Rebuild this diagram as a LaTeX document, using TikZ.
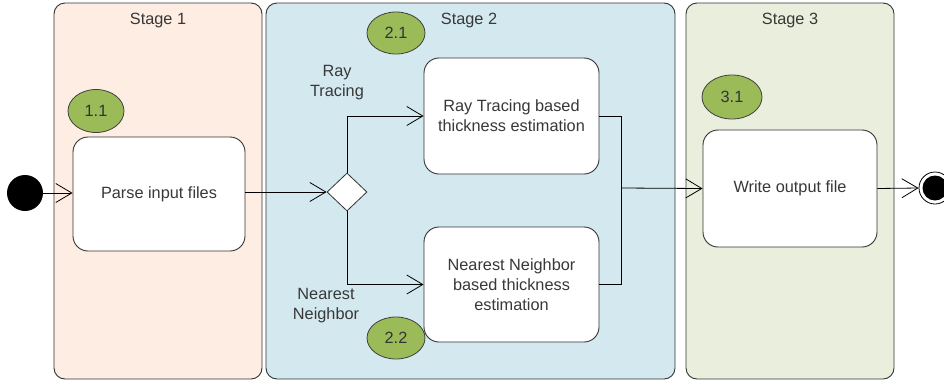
\documentclass[tikz,border=0pt]{standalone}
\usepackage{fontspec}
\setmainfont{Liberation Sans}
\usetikzlibrary{arrows.meta,shapes.geometric}
\definecolor{txt}{HTML}{383838}
\definecolor{pOne}{HTML}{FDEDE2}
\definecolor{pTwo}{HTML}{D3E9EF}
\definecolor{pThree}{HTML}{EAEEDC}
\definecolor{grn}{HTML}{9BBB59}
\tikzset{
  panel/.style={draw=black!80, line width=0.9pt, rounded corners=11pt},
  act/.style={draw=black!80, line width=0.9pt, fill=white, rounded corners=15pt, align=center, text=txt, font=\fontsize{16.3}{20}\selectfont},
  tag/.style={draw=black!75, line width=0.8pt, fill=grn, ellipse, inner sep=0pt, font=\fontsize{16.3}{17}\selectfont, text=black!80},
  lbl/.style={text=txt, font=\fontsize{16.3}{20}\selectfont, align=center},
  flow/.style={draw=black, line width=0.8pt, -{Straight Barb[length=16pt,width=19pt,line width=0.8pt]}},
  line/.style={draw=black, line width=0.8pt}
}
\begin{document}
\begin{tikzpicture}[x=1pt,y=-1pt]
\useasboundingbox (0,0) rectangle (944,381);
% panels
\draw[panel, fill=pOne] (54,3) rectangle (262,379);
\draw[panel, fill=pTwo] (266,3) rectangle (675,379);
\draw[panel, fill=pThree] (686,3) rectangle (894,379);
\node[lbl] (s1) at (158,20) {Stage 1};
\node[lbl] (s2) at (469,20) {Stage 2};
\node[lbl] (s3) at (790,20) {Stage 3};
% start / end
\node[circle, fill=black, minimum size=36pt, inner sep=0pt] (start) at (25,193) {};
\node[circle, draw=black, line width=0.8pt, fill=white, minimum size=32pt, inner sep=0pt] (endo) at (935,188) {};
\node[circle, fill=black, minimum size=25pt, inner sep=0pt] (endi) at (935,188) {};
% activities
\node[act, minimum width=172pt, minimum height=114pt] (parse) at (159,194) {Parse input files};
\node[act, minimum width=175pt, minimum height=116pt] (ray) at (511.5,116) {Ray Tracing based\\thickness estimation};
\node[act, minimum width=175pt, minimum height=115pt] (nn) at (511.5,284.5) {Nearest Neighbor\\based thickness\\estimation};
\node[act, minimum width=174pt, minimum height=117pt] (write) at (790,188.5) {Write output file};
% decision
\node[diamond, draw=black!80, line width=0.8pt, fill=white, minimum width=40pt, minimum height=38pt, inner sep=0pt] (dec) at (347,192) {};
% tags
\node[tag, minimum width=56pt, minimum height=43pt] (t11) at (96,111) {1.1};
\node[tag, minimum width=58pt, minimum height=42pt] (t21) at (396,33) {2.1};
\node[tag, minimum width=58pt, minimum height=42pt] (t22) at (396,338) {2.2};
\node[tag, minimum width=60pt, minimum height=44pt] (t31) at (732,97) {3.1};
% labels
\node[lbl] (lray) at (337,83) {Ray\\Tracing};
\node[lbl] (lnn) at (326,306) {Nearest\\Neighbor};
% connectors
\coordinate (m) at (621,188);
\draw[flow] (start.east) -- (parse.west |- start.east);
\draw[flow] (parse.east |- dec.west) -- (dec.west);
\draw[flow] (dec.north) |- (ray.west);
\draw[flow] (dec.south) |- (nn.west);
\draw[line] (ray.east) -| (m);
\draw[line] (nn.east) -| (m);
\draw[flow] (m) -- (write.west);
\draw[flow] (write.east) -- (endo.west);
\end{tikzpicture}
\end{document}
